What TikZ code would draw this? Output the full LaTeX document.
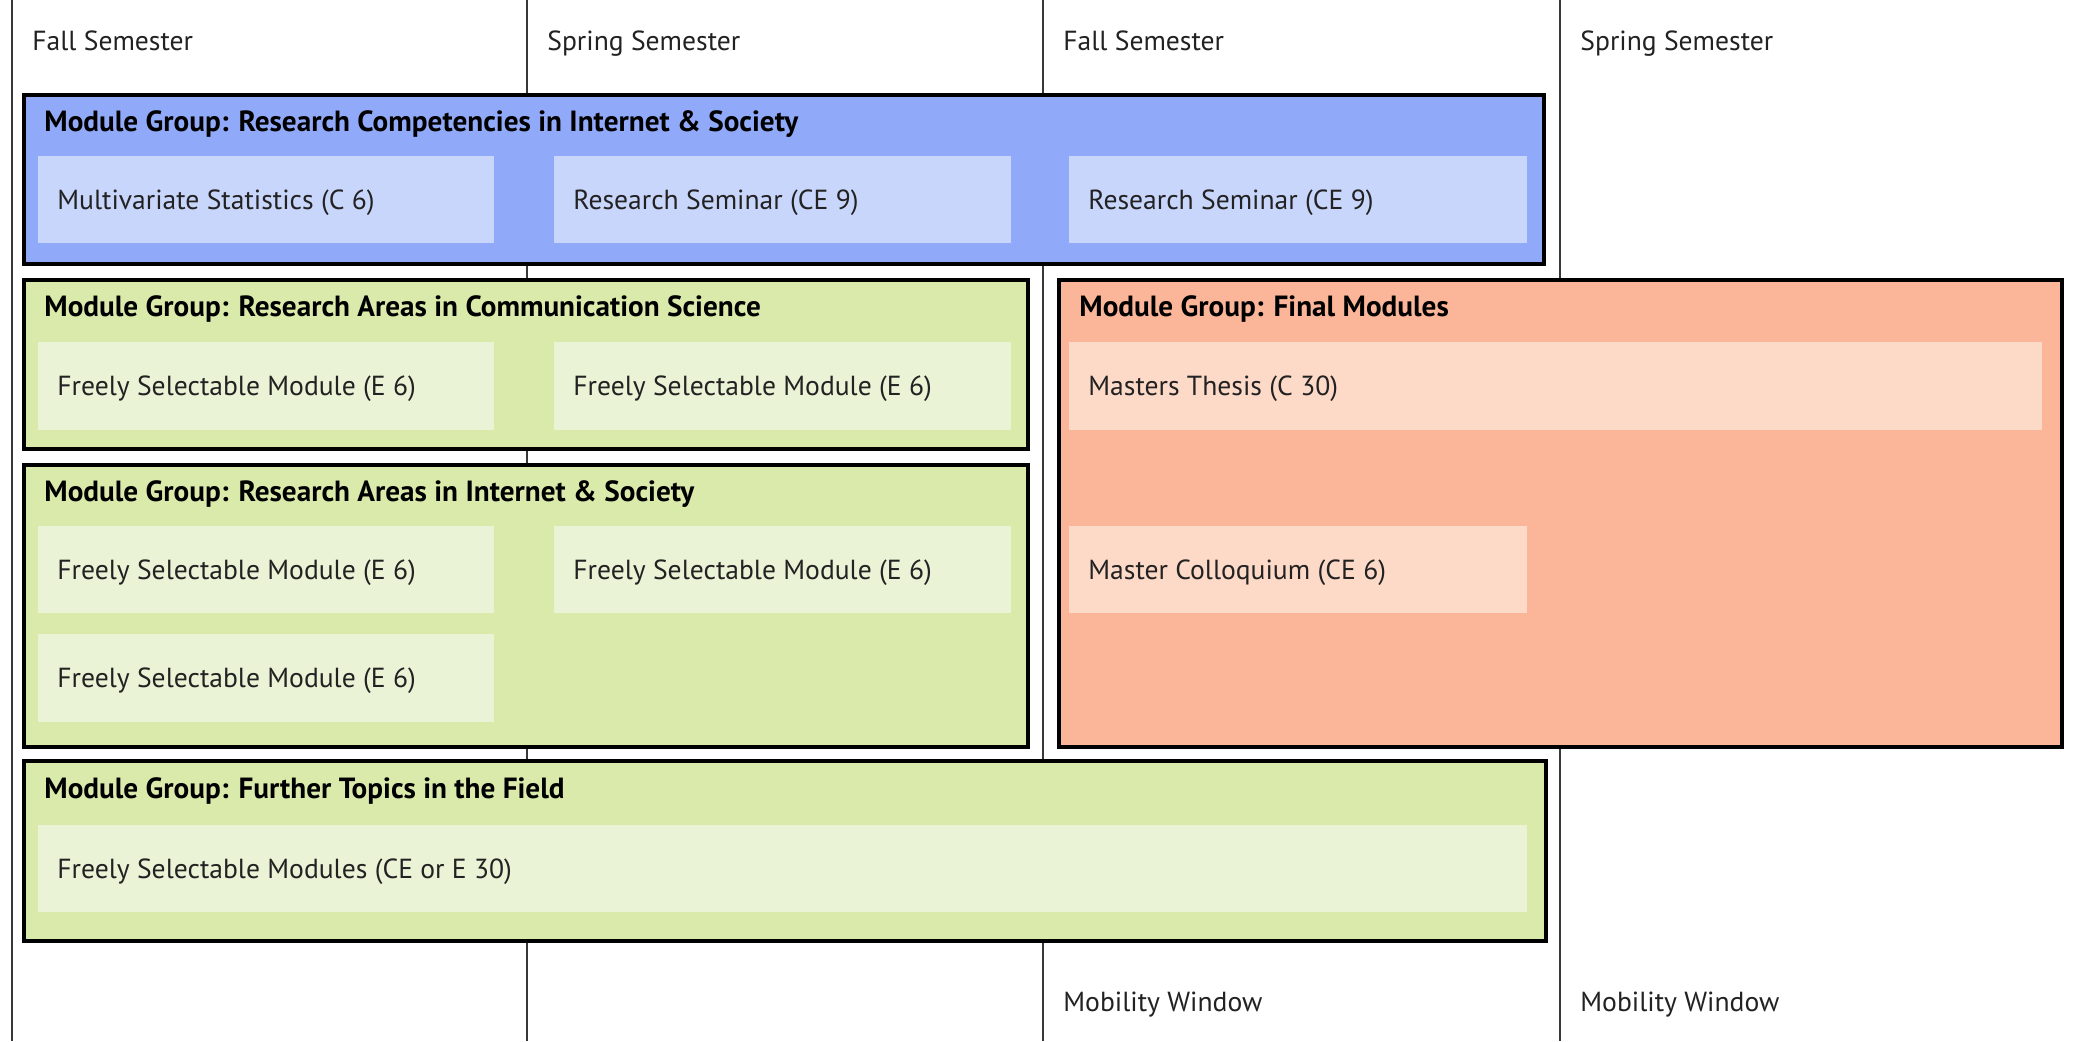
\documentclass[tikz,border=0pt]{standalone}
\usepackage{fontspec}
\setmainfont{PT Sans}
\definecolor{bluegrp}{HTML}{91A9F9}
\definecolor{bluemod}{HTML}{C9D6FB}
\definecolor{greengrp}{HTML}{D9EAAB}
\definecolor{greenmod}{HTML}{EAF3D6}
\definecolor{orangegrp}{HTML}{FBB598}
\definecolor{orangemod}{HTML}{FDD9C8}
\definecolor{ink}{HTML}{222222}
\tikzset{
  semline/.style={draw=ink!90, line width=1pt},
  grpbox/.style={draw=black, line width=1.6pt},
  label/.style={anchor=base west, inner sep=0pt, text=ink, font=\fontsize{13.8}{16}\selectfont},
  grptitle/.style={anchor=base west, inner sep=0pt, text=black, font=\bfseries\fontsize{14.6}{17}\selectfont},
}
\begin{document}
\begin{tikzpicture}[x=0.5pt,y=-0.5pt]
\useasboundingbox[fill=white] (0,0) rectangle (2073,1041);

% semester columns
\foreach \x/\n in {12/a,527/b,1043/c,1560/d}
  \draw[semline] (\x,0) -- (\x,1041);
\node[label] (h1) at (32,50) {Fall Semester};
\node[label] (h2) at (547,50) {Spring Semester};
\node[label] (h3) at (1063,50) {Fall Semester};
\node[label] (h4) at (1580,50) {Spring Semester};
\node[label] (m1) at (1063,1011) {Mobility Window};
\node[label] (m2) at (1580,1011) {Mobility Window};

% research competencies
\draw[grpbox, fill=bluegrp] (24,95) rectangle (1544,264);
\node[grptitle] (gA) at (44,131) {Module Group: Research Competencies in Internet \& Society};
\fill[bluemod] (38,156) rectangle (494,243);
\fill[bluemod] (554,156) rectangle (1011,243);
\fill[bluemod] (1069,156) rectangle (1527,243);
\node[label] (a1) at (57,209) {Multivariate Statistics (C 6)};
\node[label] (a2) at (573,209) {Research Seminar (CE 9)};
\node[label] (a3) at (1088,209) {Research Seminar (CE 9)};

% research areas in communication science
\draw[grpbox, fill=greengrp] (24,280) rectangle (1028,449);
\node[grptitle] (gB) at (44,316) {Module Group: Research Areas in Communication Science};
\fill[greenmod] (38,342) rectangle (494,430);
\fill[greenmod] (554,342) rectangle (1011,430);
\node[label] (b1) at (57,395) {Freely Selectable Module (E 6)};
\node[label] (b2) at (573,395) {Freely Selectable Module (E 6)};

% research areas in internet & society
\draw[grpbox, fill=greengrp] (24,465) rectangle (1028,747);
\node[grptitle] (gC) at (44,501) {Module Group: Research Areas in Internet \& Society};
\fill[greenmod] (38,526) rectangle (494,613);
\fill[greenmod] (554,526) rectangle (1011,613);
\fill[greenmod] (38,634) rectangle (494,722);
\node[label] (c1) at (57,579) {Freely Selectable Module (E 6)};
\node[label] (c2) at (573,579) {Freely Selectable Module (E 6)};
\node[label] (c3) at (57,687) {Freely Selectable Module (E 6)};

% final modules
\draw[grpbox, fill=orangegrp] (1059,280) rectangle (2062,747);
\node[grptitle] (gD) at (1079,316) {Module Group: Final Modules};
\fill[orangemod] (1069,342) rectangle (2042,430);
\fill[orangemod] (1069,526) rectangle (1527,613);
\node[label] (d1) at (1088,395) {Masters Thesis (C 30)};
\node[label] (d2) at (1088,579) {Master Colloquium (CE 6)};

% further topics
\draw[grpbox, fill=greengrp] (24,761) rectangle (1546,941);
\node[grptitle] (gE) at (44,798) {Module Group: Further Topics in the Field};
\fill[greenmod] (38,825) rectangle (1527,912);
\node[label] (e1) at (57,878) {Freely Selectable Modules (CE or E 30)};
\end{tikzpicture}
\end{document}
